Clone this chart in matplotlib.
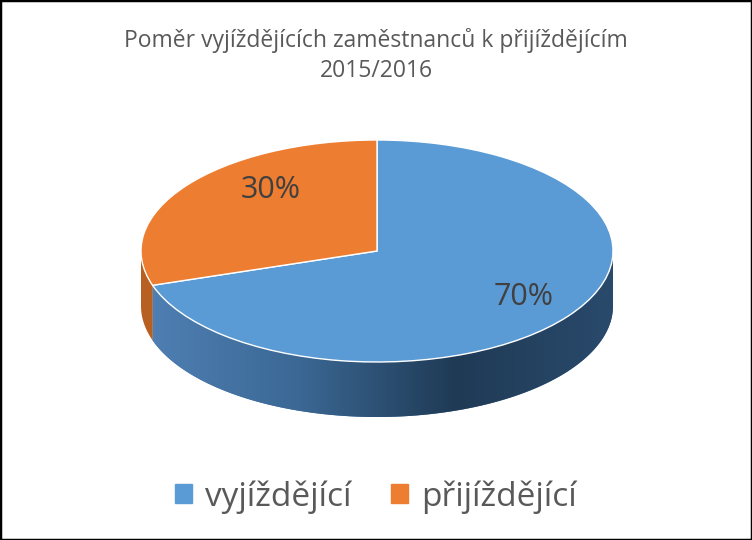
import numpy as np
import matplotlib
matplotlib.use("Agg")
import matplotlib.pyplot as plt
from matplotlib.patches import Polygon, Rectangle
from matplotlib.colors import LinearSegmentedColormap

labels = ["vyjíždějící", "přijíždějící"]
values = [70, 30]
colors = ["#5b9bd5", "#ed7d31"]
title = "Poměr vyjíždějících zaměstnanců k přijíždějícím\n2015/2016"

plt.rcParams['font.family'] = ['Open Sans', 'DejaVu Sans']
fig = plt.figure(figsize=(7.52, 5.40), dpi=100)
fig.patches.append(Rectangle((0, 0), 1, 1, transform=fig.transFigure, fill=False,
                             edgecolor="black", linewidth=2.5))
fig.text(0.5, 0.897, title, ha="center", va="center", fontsize=16.5, color="#595959",
         linespacing=1.35)

d = 55 / 111
ax = fig.add_axes([141/752, (540-417)/540, 472/752, 277/540])
ax.axis("off")

total = sum(values)
start = 90.0
bounds = []
for v in values:
    end = start - 360 * v / total
    bounds.append((end, start))
    start = end

side_cols = ["#3d6a99", "#b85f22"]
for (a0, a1), col, i in zip(bounds, side_cols, range(len(values))):
    for lo, hi in [(a0, a1), (a0 + 360, a1 + 360), (a0 - 360, a1 - 360)]:
        s, e = max(lo, 180), min(hi, 360)
        if e <= s:
            continue
        t = np.radians(np.linspace(s, e, 100))
        top = np.c_[np.cos(t), np.sin(t)]
        bot = np.c_[np.cos(t[::-1]), np.sin(t[::-1]) - d]
        poly = Polygon(np.vstack([top, bot]), closed=True, facecolor=col, edgecolor="none")
        ax.add_patch(poly)
        if i == 0:
            cmap = LinearSegmentedColormap.from_list("g", ["#5080b5", "#3b6894", "#1f3a55", "#2a4a6c"])
            grad = np.linspace(0, 1, 256).reshape(1, -1)
            im = ax.imshow(grad, extent=[-1, 1, -1 - d, 0], cmap=cmap, aspect="auto", zorder=1)
            im.set_clip_path(poly)

wedges, texts, autotexts = ax.pie(values, colors=colors, startangle=90, counterclock=False,
                                  autopct="%d%%", pctdistance=0.68, radius=1,
                                  wedgeprops=dict(edgecolor="white", linewidth=1),
                                  textprops=dict(fontsize=22, color="#404040"))
for w in wedges:
    w.set_zorder(3)
for t in autotexts:
    t.set_zorder(4)
autotexts[1].set_position((-0.45, 0.55))
autotexts[0].set_position((0.62, -0.41))
ax.set_xlim(-1, 1); ax.set_ylim(-1 - d, 1); ax.set_aspect("auto")

handles = [Rectangle((0, 0), 1, 1, color=c) for c in colors]
fig.legend(handles, labels, loc="center", bbox_to_anchor=(0.5, 0.08), ncol=2, frameon=False,
           fontsize=24, handlelength=0.5, handleheight=0.5, columnspacing=1.2, handletextpad=0.4,
           labelcolor="#595959")

fig.savefig("out.png", dpi=100)
